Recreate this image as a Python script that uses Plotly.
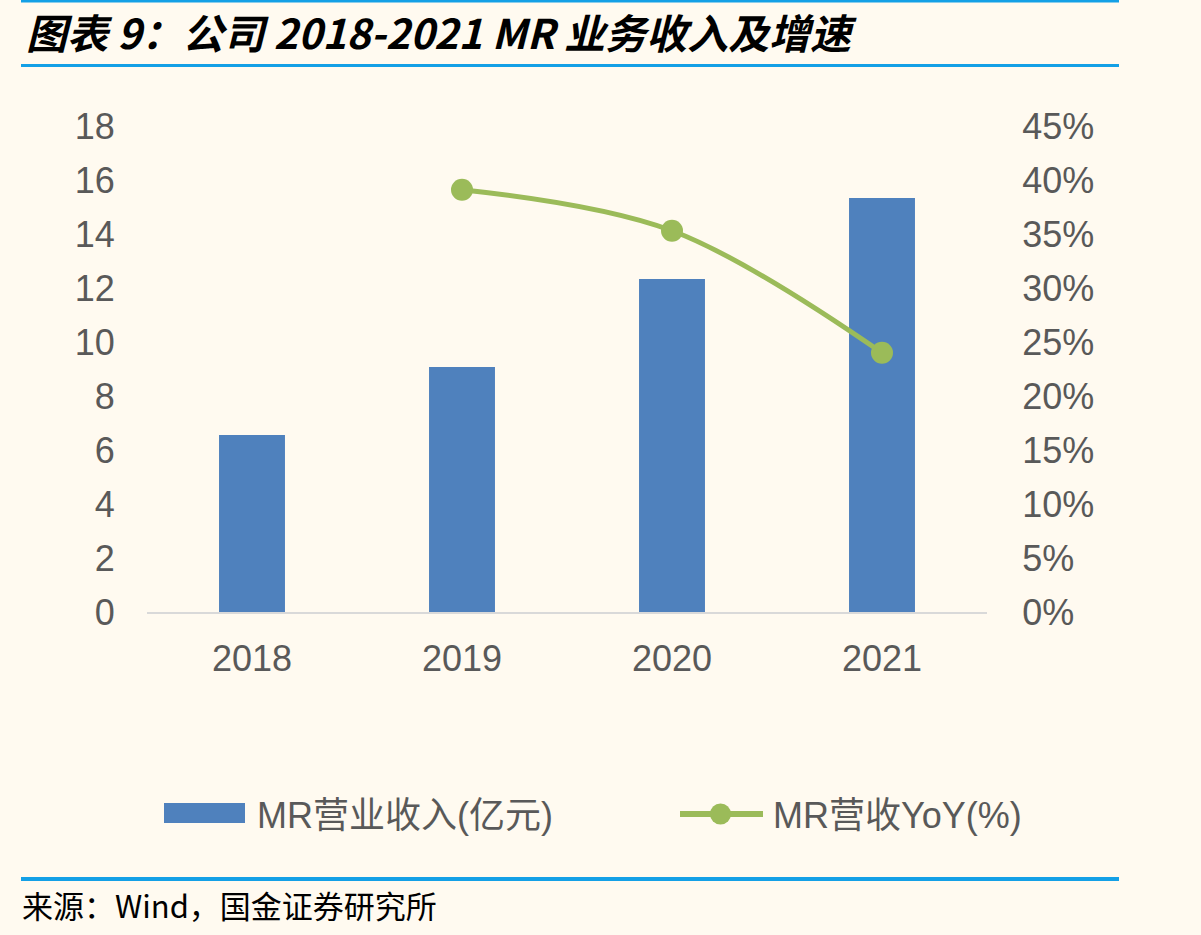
import plotly.graph_objects as go

# ---- data ----
years = ["2018", "2019", "2020", "2021"]
revenue = [6.56, 9.07, 12.33, 15.33]          # MR营业收入(亿元)
yoy_years = ["2019", "2020", "2021"]
yoy = [0.391, 0.353, 0.240]                    # MR营业收入YoY

W, H = 1201, 935
L, R, T, B = 147, 987, 126, 612  # plot area in pixels

def px(x):
    return (x - L) / (R - L)

def py(y):
    return (B - y) / (B - T)

BLUE_BAR = "#4F81BD"
GREEN = "#9BBB59"
TXT = "#595959"
RULE = "#14A0E6"
FONT = "Liberation Sans, Arial, Noto Sans CJK SC"

fig = go.Figure()
fig.add_trace(go.Bar(
    x=years, y=revenue, name="MR营业收入(亿元)",
    marker=dict(color=BLUE_BAR, line=dict(width=0)),
    yaxis="y", showlegend=False,
))
fig.add_trace(go.Scatter(
    x=yoy_years, y=yoy, name="MR营收YoY(%)",
    mode="lines+markers",
    line=dict(color=GREEN, width=5, shape="spline", smoothing=1),
    marker=dict(color=GREEN, size=22, line=dict(width=0)),
    yaxis="y2", showlegend=False,
))

shapes = []
# horizontal rules
for yy, w in [(1, 3), (65.5, 3), (879, 4)]:
    shapes.append(dict(type="line", xref="paper", yref="paper",
                       x0=px(21), x1=px(1119), y0=py(yy), y1=py(yy),
                       line=dict(color=RULE, width=w)))
# legend: bar swatch
shapes.append(dict(type="rect", xref="paper", yref="paper",
                   x0=px(164), x1=px(245), y0=py(823), y1=py(803),
                   fillcolor=BLUE_BAR, line=dict(width=0)))
# legend: line swatch
shapes.append(dict(type="line", xref="paper", yref="paper",
                   x0=px(680), x1=px(763), y0=py(814), y1=py(814),
                   line=dict(color=GREEN, width=6)))
shapes.append(dict(type="circle", xref="paper", yref="paper",
                   x0=px(710), x1=px(731), y0=py(824.5), y1=py(803.5),
                   fillcolor=GREEN, line=dict(width=0)))

annotations = [
    dict(text="<b><i>图表 9：公司 2018-2021 MR 业务收入及增速</i></b>",
         xref="paper", yref="paper", x=px(24), y=py(31),
         xanchor="left", yanchor="middle", showarrow=False,
         font=dict(family="Noto Sans CJK SC", size=41, color="#000000")),
    dict(text="来源：Wind，国金证券研究所",
         xref="paper", yref="paper", x=px(20), y=py(905),
         xanchor="left", yanchor="middle", showarrow=False,
         font=dict(family="Noto Sans CJK SC", size=31, color="#000000")),
    dict(text="MR营业收入(亿元)",
         xref="paper", yref="paper", x=px(255), y=py(815),
         xanchor="left", yanchor="middle", showarrow=False,
         font=dict(family=FONT, size=36, color=TXT)),
    dict(text="MR营收YoY(%)",
         xref="paper", yref="paper", x=px(771), y=py(815),
         xanchor="left", yanchor="middle", showarrow=False,
         font=dict(family=FONT, size=36, color=TXT)),
]

tickfont = dict(family=FONT, size=36, color=TXT)

fig.update_layout(
    width=W, height=H,
    margin=dict(l=L, r=W - R, t=T, b=H - B, pad=0),
    paper_bgcolor="#FFFAF0", plot_bgcolor="#FFFAF0",
    bargap=0.686,
    showlegend=False,
    shapes=shapes,
    annotations=annotations,
    xaxis=dict(
        type="category", showline=True, linecolor="#D9D9D9", linewidth=2,
        showgrid=False, zeroline=False,
        ticks="outside", ticklen=14, tickcolor="rgba(0,0,0,0)",
        tickfont=tickfont,
    ),
    yaxis=dict(
        range=[0, 18], dtick=2, showgrid=False, zeroline=False, showline=False,
        ticks="outside", ticklen=24, tickcolor="rgba(0,0,0,0)",
        tickfont=tickfont,
    ),
    yaxis2=dict(
        range=[0, 0.45], dtick=0.05, tickformat=".0%", overlaying="y", side="right",
        showgrid=False, zeroline=False, showline=False,
        ticks="outside", ticklen=27, tickcolor="rgba(0,0,0,0)",
        tickfont=tickfont,
    ),
)

fig.write_html("out.html")
